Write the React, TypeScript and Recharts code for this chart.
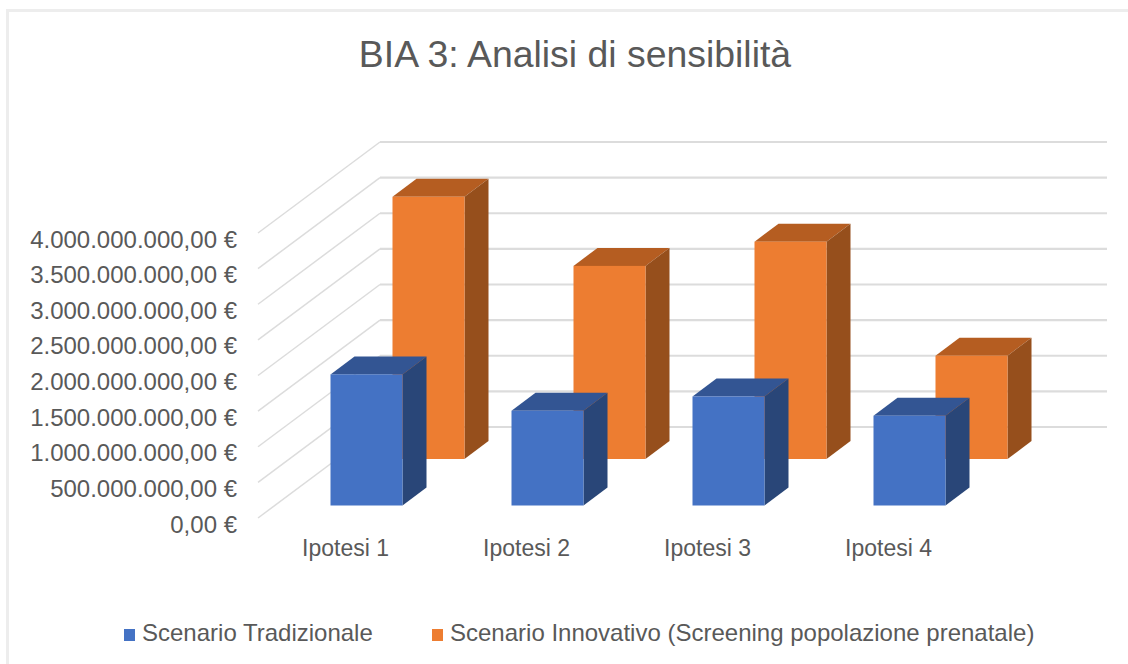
import { Bar, BarChart, CartesianGrid, Legend, XAxis, YAxis } from "recharts";

const categories = ["Ipotesi 1", "Ipotesi 2", "Ipotesi 3", "Ipotesi 4"];
const tradizionale = [1.84e9, 1.33e9, 1.53e9, 1.26e9];
const innovativo = [3.68e9, 2.71e9, 3.05e9, 1.45e9];
const yTicks = [0, 5e8, 1e9, 1.5e9, 2e9, 2.5e9, 3e9, 3.5e9, 4e9];
const yLabels = [
  "0,00 €",
  "500.000.000,00 €",
  "1.000.000.000,00 €",
  "1.500.000.000,00 €",
  "2.000.000.000,00 €",
  "2.500.000.000,00 €",
  "3.000.000.000,00 €",
  "3.500.000.000,00 €",
  "4.000.000.000,00 €",
];

const data = categories.map((name, i) => ({
  name,
  tradizionale: tradizionale[i],
  innovativo: innovativo[i],
}));

const FONT = "'Liberation Sans', Arial, sans-serif";
const TEXT = "#595959";
const WALL_DX = 122;
const WALL_DY = -91;

// 3D box: front face plus top and side, pushed back by dx/dy on the floor
const Box = (props: any) => {
  const { x, y, width, height, dx, dy, front, top, side } = props;
  const d = 24;
  const h = -18;
  const l = x + dx;
  const r = l + width;
  const t = y + dy;
  const b = t + height;
  return (
    <g>
      <polygon points={`${l},${t} ${l + d},${t + h} ${r + d},${t + h} ${r},${t}`} fill={top} />
      <polygon points={`${r},${t} ${r + d},${t + h} ${r + d},${b + h} ${r},${b}`} fill={side} />
      <rect x={l} y={t} width={width} height={height} fill={front} />
    </g>
  );
};

const WallLine = (props: any) => {
  const { x1, x2, y1 } = props;
  return (
    <g fill="none" stroke="#dcdcdc">
      <line x1={x1} y1={y1} x2={x1 + WALL_DX} y2={y1 + WALL_DY} strokeWidth={1.5} />
      <line x1={x1 + WALL_DX} y1={y1 + WALL_DY} x2={x2 + WALL_DX + 3} y2={y1 + WALL_DY} strokeWidth={2.2} />
    </g>
  );
};

const legendText = { position: "absolute", top: 3, fontSize: 24, color: TEXT, fontFamily: FONT, whiteSpace: "nowrap" } as const;

const legendContent = () => (
  <div style={{ position: "relative", width: 1128, height: 30 }}>
    <span style={{ position: "absolute", left: 124, top: 13, width: 11, height: 12, background: "#4472c4" }} />
    <span style={{ ...legendText, left: 142 }}>Scenario Tradizionale</span>
    <span style={{ position: "absolute", left: 432, top: 13, width: 11, height: 12, background: "#ed7d31" }} />
    <span style={{ ...legendText, left: 450 }}>Scenario Innovativo (Screening popolazione prenatale)</span>
  </div>
);

export default function App() {
  return (
    <div style={{ position: "absolute", left: 0, top: 0, width: 1128, height: 664, background: "#fff", overflow: "hidden" }}>
      <div style={{ position: "absolute", left: 6, top: 9, width: 1200, height: 800, border: "3px solid #ededed" }} />
      <div
        style={{
          position: "absolute",
          left: 0,
          top: 33,
          width: 1150,
          textAlign: "center",
          fontFamily: FONT,
          fontSize: 37.4,
          color: TEXT,
        }}
      >
        BIA 3: Analisi di sensibilità
      </div>
      <BarChart
        width={1128}
        height={664}
        data={data}
        margin={{ top: 233, right: 146, bottom: 86, left: 0 }}
        barSize={72}
        barGap={-72}
        style={{ position: "absolute", left: 0, top: 0 }}
      >
        <CartesianGrid vertical={false} horizontal={(p: any) => <WallLine key={p.key} {...p} />} />
        <XAxis
          dataKey="name"
          axisLine={false}
          tickLine={false}
          interval={0}
          tick={{ fill: TEXT, fontSize: 23, fontFamily: FONT, dx: -3, dy: 14 }}
        />
        <YAxis
          width={258}
          domain={[0, 4e9]}
          ticks={yTicks}
          interval={0}
          axisLine={false}
          tickLine={false}
          tickFormatter={(v: number) => yLabels[yTicks.indexOf(v)]}
          tick={{ fill: TEXT, fontSize: 24, fontFamily: FONT, dx: -13, dy: 6 }}
        />
        <Legend content={legendContent} wrapperStyle={{ left: 0, top: 616, width: 1128, height: 30 }} />
        <Bar
          dataKey="innovativo"
          name="Scenario Innovativo (Screening popolazione prenatale)"
          isAnimationActive={false}
          fill="#ed7d31"
          shape={(p: any) => <Box {...p} dx={79.5} dy={-59} front="#ed7d31" top="#b55d21" side="#964f1c" />}
        />
        <Bar
          dataKey="tradizionale"
          name="Scenario Tradizionale"
          isAnimationActive={false}
          fill="#4472c4"
          shape={(p: any) => <Box {...p} dx={17.5} dy={-12.5} front="#4472c4" top="#335593" side="#294678" />}
        />
      </BarChart>
    </div>
  );
}
